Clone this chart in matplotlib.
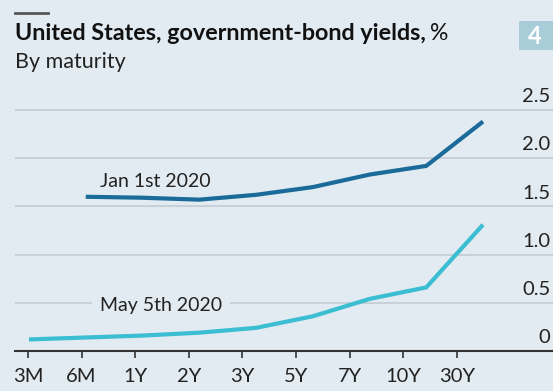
import matplotlib
matplotlib.use("Agg")
import matplotlib.pyplot as plt
from matplotlib.patches import Rectangle
from matplotlib.lines import Line2D

# data
maturities = ["3M", "6M", "1Y", "2Y", "3Y", "5Y", "7Y", "10Y", "30Y"]
jan_2020 = [None, 1.60, 1.59, 1.57, 1.62, 1.70, 1.83, 1.92, 2.38]
may_2020 = [0.12, 0.14, 0.16, 0.19, 0.24, 0.36, 0.54, 0.66, 1.31]
y_ticks = [0, 0.5, 1.0, 1.5, 2.0, 2.5]
y_labels = ["0", "0.5", "1.0", "1.5", "2.0", "2.5"]

BG = "#e2ebf1"
DARK = "#1b6b9a"
LIGHT = "#3bbdd2"
GRID = "#c3ccd2"

plt.rcParams["font.family"] = ["Lato", "DejaVu Sans"]

W, H = 553, 391
fig = plt.figure(figsize=(W / 100, H / 100), dpi=100)
fig.patch.set_facecolor(BG)

# axes placed in pixel terms
x0, x1 = 15, 553
ybot, ytop = 351, 100
ax = fig.add_axes([x0 / W, 1 - ybot / H, (x1 - x0) / W, (ybot - ytop) / H])
ax.set_facecolor(BG)

xstep = 56.75  # px per maturity step
ax.set_xlim(-(29 - x0) / xstep, (x1 - 29) / xstep)
ax.set_ylim(0, (ybot - ytop) / 96.4)

xs = list(range(len(maturities)))
jx = [x for x, v in zip(xs, jan_2020) if v is not None]
jy = [v for v in jan_2020 if v is not None]
ax.plot(jx, jy, color=DARK, lw=3, solid_capstyle="butt", zorder=3)
ax.plot(xs, may_2020, color=LIGHT, lw=3, solid_capstyle="butt", zorder=3)

# grid
for v in y_ticks[1:]:
    ax.axhline(v, color=GRID, lw=1.2, zorder=1)
for v, lab in zip(y_ticks, y_labels):
    ax.text(0.995, v + 0.05, lab, transform=ax.get_yaxis_transform(),
            ha="right", va="bottom", fontsize=14.5, color="#222222")

for s in ["top", "right", "left"]:
    ax.spines[s].set_visible(False)
ax.spines["bottom"].set_color("#333333")
ax.spines["bottom"].set_linewidth(1.5)
ax.set_yticks([])

tick_pos = [(-1 + i * 53.6) / xstep for i in range(len(maturities))]
ax.set_xticks(tick_pos)
ax.set_xticklabels(maturities)
ax.tick_params(axis="x", length=5, width=1.2, color="#333333",
               labelsize=14.5, pad=7, labelcolor="#222222")

# line labels
ax.text(1.25, 1.70, "Jan 1st 2020", fontsize=14, color="#222222",
        ha="left", va="baseline", zorder=4)
ax.text(1.25, 0.415, "May 5th 2020", fontsize=14, color="#222222",
        ha="left", va="baseline", zorder=4,
        bbox=dict(facecolor=BG, edgecolor="none", pad=6))

# header
fig.add_artist(Line2D([15 / W, 48 / W], [1 - 13 / H, 1 - 13 / H],
                      color="#555555", lw=2))
t = fig.text(15 / W, 1 - 40 / H, "United States, government-bond yields,",
             fontsize=16.8, fontweight="bold", color="#111111", va="baseline")
fig.canvas.draw()
bb = t.get_window_extent()
fig.text(bb.x1 / W + 0.008, 1 - 40 / H, "%", fontsize=16.5, color="#111111",
         va="baseline")
fig.text(15 / W, 1 - 68 / H, "By maturity", fontsize=15.5, color="#222222",
         va="baseline")

fig.add_artist(Rectangle((519 / W, 1 - 50 / H), 34 / W, 29 / H,
                         facecolor="#a9ccd9", edgecolor="none",
                         transform=fig.transFigure))
fig.text(535 / W, 1 - 36 / H, "4", fontsize=17, fontweight="bold",
         color="white", ha="center", va="center")

fig.savefig("out.png", dpi=100, facecolor=BG)
